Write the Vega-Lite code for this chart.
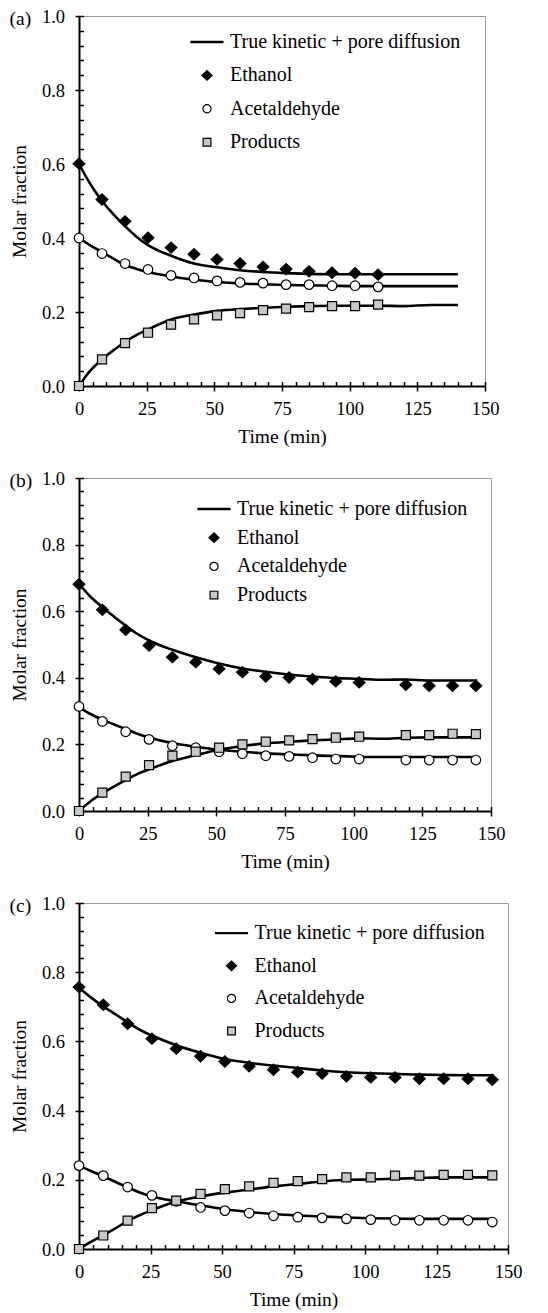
{
  "$schema": "https://vega.github.io/schema/vega-lite/v6.json",
  "background": "white",
  "padding": {"left": 8, "top": 6, "right": 5, "bottom": 5},
  "spacing": 21,
  "datasets": {
    "fit": [
      {"p":"a","t":0,"Ethanol":0.600,"Acetaldehyde":0.400,"Products":0.000},
      {"p":"a","t":4,"Ethanol":0.548,"Acetaldehyde":0.381,"Products":0.040},
      {"p":"a","t":8.5,"Ethanol":0.500,"Acetaldehyde":0.362,"Products":0.072},
      {"p":"a","t":13,"Ethanol":0.462,"Acetaldehyde":0.343,"Products":0.098},
      {"p":"a","t":17,"Ethanol":0.432,"Acetaldehyde":0.327,"Products":0.119},
      {"p":"a","t":21,"Ethanol":0.405,"Acetaldehyde":0.317,"Products":0.137},
      {"p":"a","t":25.5,"Ethanol":0.381,"Acetaldehyde":0.308,"Products":0.153},
      {"p":"a","t":34,"Ethanol":0.352,"Acetaldehyde":0.296,"Products":0.180},
      {"p":"a","t":42.5,"Ethanol":0.331,"Acetaldehyde":0.287,"Products":0.193},
      {"p":"a","t":51,"Ethanol":0.321,"Acetaldehyde":0.281,"Products":0.203},
      {"p":"a","t":59.5,"Ethanol":0.313,"Acetaldehyde":0.277,"Products":0.208},
      {"p":"a","t":68,"Ethanol":0.308,"Acetaldehyde":0.275,"Products":0.211},
      {"p":"a","t":76.5,"Ethanol":0.305,"Acetaldehyde":0.273,"Products":0.214},
      {"p":"a","t":85,"Ethanol":0.303,"Acetaldehyde":0.272,"Products":0.216},
      {"p":"a","t":93.5,"Ethanol":0.302,"Acetaldehyde":0.271,"Products":0.217},
      {"p":"a","t":102,"Ethanol":0.302,"Acetaldehyde":0.270,"Products":0.217},
      {"p":"a","t":110.5,"Ethanol":0.302,"Acetaldehyde":0.270,"Products":0.217},
      {"p":"a","t":120,"Ethanol":0.302,"Acetaldehyde":0.270,"Products":0.216},
      {"p":"a","t":130,"Ethanol":0.302,"Acetaldehyde":0.270,"Products":0.219},
      {"p":"a","t":140,"Ethanol":0.302,"Acetaldehyde":0.270,"Products":0.219},
      {"p":"b","t":0,"Ethanol":0.681,"Acetaldehyde":0.312,"Products":0.000},
      {"p":"b","t":4,"Ethanol":0.645,"Acetaldehyde":0.292,"Products":0.028},
      {"p":"b","t":8.5,"Ethanol":0.612,"Acetaldehyde":0.274,"Products":0.053},
      {"p":"b","t":13,"Ethanol":0.582,"Acetaldehyde":0.259,"Products":0.075},
      {"p":"b","t":17,"Ethanol":0.556,"Acetaldehyde":0.246,"Products":0.093},
      {"p":"b","t":21,"Ethanol":0.533,"Acetaldehyde":0.233,"Products":0.110},
      {"p":"b","t":25.5,"Ethanol":0.512,"Acetaldehyde":0.221,"Products":0.125},
      {"p":"b","t":34,"Ethanol":0.484,"Acetaldehyde":0.204,"Products":0.150},
      {"p":"b","t":42.5,"Ethanol":0.462,"Acetaldehyde":0.193,"Products":0.168},
      {"p":"b","t":51,"Ethanol":0.443,"Acetaldehyde":0.184,"Products":0.184},
      {"p":"b","t":59.5,"Ethanol":0.428,"Acetaldehyde":0.178,"Products":0.195},
      {"p":"b","t":68,"Ethanol":0.418,"Acetaldehyde":0.173,"Products":0.203},
      {"p":"b","t":76.5,"Ethanol":0.410,"Acetaldehyde":0.170,"Products":0.208},
      {"p":"b","t":85,"Ethanol":0.404,"Acetaldehyde":0.167,"Products":0.212},
      {"p":"b","t":93.5,"Ethanol":0.399,"Acetaldehyde":0.165,"Products":0.215},
      {"p":"b","t":102,"Ethanol":0.397,"Acetaldehyde":0.163,"Products":0.218},
      {"p":"b","t":110.5,"Ethanol":0.394,"Acetaldehyde":0.162,"Products":0.217},
      {"p":"b","t":119,"Ethanol":0.395,"Acetaldehyde":0.162,"Products":0.220},
      {"p":"b","t":127.5,"Ethanol":0.392,"Acetaldehyde":0.162,"Products":0.221},
      {"p":"b","t":136,"Ethanol":0.392,"Acetaldehyde":0.162,"Products":0.221},
      {"p":"b","t":145,"Ethanol":0.392,"Acetaldehyde":0.162,"Products":0.221},
      {"p":"c","t":0,"Ethanol":0.755,"Acetaldehyde":0.241,"Products":0.000},
      {"p":"c","t":4,"Ethanol":0.728,"Acetaldehyde":0.226,"Products":0.020},
      {"p":"c","t":8.5,"Ethanol":0.701,"Acetaldehyde":0.210,"Products":0.040},
      {"p":"c","t":13,"Ethanol":0.677,"Acetaldehyde":0.193,"Products":0.061},
      {"p":"c","t":17,"Ethanol":0.655,"Acetaldehyde":0.178,"Products":0.081},
      {"p":"c","t":21,"Ethanol":0.635,"Acetaldehyde":0.164,"Products":0.097},
      {"p":"c","t":25.5,"Ethanol":0.617,"Acetaldehyde":0.152,"Products":0.112},
      {"p":"c","t":34,"Ethanol":0.589,"Acetaldehyde":0.138,"Products":0.137},
      {"p":"c","t":42.5,"Ethanol":0.567,"Acetaldehyde":0.126,"Products":0.152},
      {"p":"c","t":51,"Ethanol":0.549,"Acetaldehyde":0.115,"Products":0.163},
      {"p":"c","t":59.5,"Ethanol":0.538,"Acetaldehyde":0.107,"Products":0.172},
      {"p":"c","t":68,"Ethanol":0.530,"Acetaldehyde":0.101,"Products":0.181},
      {"p":"c","t":76.5,"Ethanol":0.523,"Acetaldehyde":0.097,"Products":0.188},
      {"p":"c","t":85,"Ethanol":0.516,"Acetaldehyde":0.094,"Products":0.195},
      {"p":"c","t":93.5,"Ethanol":0.511,"Acetaldehyde":0.091,"Products":0.200},
      {"p":"c","t":102,"Ethanol":0.508,"Acetaldehyde":0.089,"Products":0.201},
      {"p":"c","t":110.5,"Ethanol":0.506,"Acetaldehyde":0.088,"Products":0.203},
      {"p":"c","t":119,"Ethanol":0.504,"Acetaldehyde":0.087,"Products":0.205},
      {"p":"c","t":127.5,"Ethanol":0.503,"Acetaldehyde":0.087,"Products":0.207},
      {"p":"c","t":136,"Ethanol":0.502,"Acetaldehyde":0.087,"Products":0.207},
      {"p":"c","t":145,"Ethanol":0.502,"Acetaldehyde":0.087,"Products":0.207}
    ],
    "pts": [
      {"p":"a","t":0,"Ethanol":0.601,"Acetaldehyde":0.400,"Products":0.000},
      {"p":"a","t":8.5,"Ethanol":0.504,"Acetaldehyde":0.358,"Products":0.072},
      {"p":"a","t":17,"Ethanol":0.445,"Acetaldehyde":0.331,"Products":0.116},
      {"p":"a","t":25.5,"Ethanol":0.401,"Acetaldehyde":0.315,"Products":0.144},
      {"p":"a","t":34,"Ethanol":0.374,"Acetaldehyde":0.299,"Products":0.166},
      {"p":"a","t":42.5,"Ethanol":0.356,"Acetaldehyde":0.292,"Products":0.180},
      {"p":"a","t":51,"Ethanol":0.342,"Acetaldehyde":0.284,"Products":0.191},
      {"p":"a","t":59.5,"Ethanol":0.331,"Acetaldehyde":0.280,"Products":0.197},
      {"p":"a","t":68,"Ethanol":0.322,"Acetaldehyde":0.278,"Products":0.205},
      {"p":"a","t":76.5,"Ethanol":0.316,"Acetaldehyde":0.274,"Products":0.209},
      {"p":"a","t":85,"Ethanol":0.310,"Acetaldehyde":0.274,"Products":0.213},
      {"p":"a","t":93.5,"Ethanol":0.306,"Acetaldehyde":0.271,"Products":0.216},
      {"p":"a","t":102,"Ethanol":0.305,"Acetaldehyde":0.271,"Products":0.216},
      {"p":"a","t":110.5,"Ethanol":0.301,"Acetaldehyde":0.268,"Products":0.220},
      {"p":"b","t":0,"Ethanol":0.681,"Acetaldehyde":0.314,"Products":0.000},
      {"p":"b","t":8.5,"Ethanol":0.604,"Acetaldehyde":0.269,"Products":0.055},
      {"p":"b","t":17,"Ethanol":0.544,"Acetaldehyde":0.238,"Products":0.103},
      {"p":"b","t":25.5,"Ethanol":0.497,"Acetaldehyde":0.215,"Products":0.138},
      {"p":"b","t":34,"Ethanol":0.462,"Acetaldehyde":0.196,"Products":0.166},
      {"p":"b","t":42.5,"Ethanol":0.447,"Acetaldehyde":0.190,"Products":0.178},
      {"p":"b","t":51,"Ethanol":0.427,"Acetaldehyde":0.178,"Products":0.190},
      {"p":"b","t":59.5,"Ethanol":0.417,"Acetaldehyde":0.172,"Products":0.200},
      {"p":"b","t":68,"Ethanol":0.404,"Acetaldehyde":0.166,"Products":0.208},
      {"p":"b","t":76.5,"Ethanol":0.401,"Acetaldehyde":0.164,"Products":0.212},
      {"p":"b","t":85,"Ethanol":0.396,"Acetaldehyde":0.160,"Products":0.216},
      {"p":"b","t":93.5,"Ethanol":0.389,"Acetaldehyde":0.156,"Products":0.220},
      {"p":"b","t":102,"Ethanol":0.386,"Acetaldehyde":0.156,"Products":0.223},
      {"p":"b","t":119,"Ethanol":0.379,"Acetaldehyde":0.153,"Products":0.228},
      {"p":"b","t":127.5,"Ethanol":0.376,"Acetaldehyde":0.153,"Products":0.228},
      {"p":"b","t":136,"Ethanol":0.376,"Acetaldehyde":0.153,"Products":0.232},
      {"p":"b","t":144.5,"Ethanol":0.376,"Acetaldehyde":0.153,"Products":0.231},
      {"p":"c","t":0,"Ethanol":0.757,"Acetaldehyde":0.241,"Products":0.000},
      {"p":"c","t":8.5,"Ethanol":0.706,"Acetaldehyde":0.212,"Products":0.039},
      {"p":"c","t":17,"Ethanol":0.651,"Acetaldehyde":0.179,"Products":0.082},
      {"p":"c","t":25.5,"Ethanol":0.608,"Acetaldehyde":0.155,"Products":0.118},
      {"p":"c","t":34,"Ethanol":0.579,"Acetaldehyde":0.138,"Products":0.140},
      {"p":"c","t":42.5,"Ethanol":0.557,"Acetaldehyde":0.120,"Products":0.159},
      {"p":"c","t":51,"Ethanol":0.542,"Acetaldehyde":0.111,"Products":0.173},
      {"p":"c","t":59.5,"Ethanol":0.528,"Acetaldehyde":0.104,"Products":0.181},
      {"p":"c","t":68,"Ethanol":0.518,"Acetaldehyde":0.096,"Products":0.191},
      {"p":"c","t":76.5,"Ethanol":0.511,"Acetaldehyde":0.092,"Products":0.196},
      {"p":"c","t":85,"Ethanol":0.507,"Acetaldehyde":0.090,"Products":0.202},
      {"p":"c","t":93.5,"Ethanol":0.499,"Acetaldehyde":0.087,"Products":0.207},
      {"p":"c","t":102,"Ethanol":0.496,"Acetaldehyde":0.085,"Products":0.207},
      {"p":"c","t":110.5,"Ethanol":0.496,"Acetaldehyde":0.083,"Products":0.212},
      {"p":"c","t":119,"Ethanol":0.492,"Acetaldehyde":0.083,"Products":0.212},
      {"p":"c","t":127.5,"Ethanol":0.492,"Acetaldehyde":0.083,"Products":0.214},
      {"p":"c","t":136,"Ethanol":0.492,"Acetaldehyde":0.083,"Products":0.214},
      {"p":"c","t":144.5,"Ethanol":0.489,"Acetaldehyde":0.078,"Products":0.213}
    ]
  },
  "vconcat": [
    {
      "width": 406, "height": 370,
      "title": {"text": "(a)", "anchor": "start", "frame": "group", "dx": -69.4, "dy": 9, "offset": -22, "baseline": "middle"},
      "layer": [
        {
          "data": {"name": "fit"},
          "transform": [{"filter": "datum.p == 'a'"}, {"fold": ["Ethanol", "Acetaldehyde", "Products"], "as": ["series", "y"]}],
          "mark": {"type": "line", "color": "black", "strokeWidth": 2.6, "interpolate": "monotone"},
          "encoding": {
            "x": {"field": "t", "type": "quantitative", "scale": {"domain": [0, 150], "nice": false},
                  "axis": {"orient": "bottom", "values": [0,5,10,15,20,25,30,35,40,45,50,55,60,65,70,75,80,85,90,95,100,105,110,115,120,125,130,135,140,145,150], "tickSize": -4.5, "labels": false, "domain": false, "title": null}},
            "y": {"field": "y", "type": "quantitative", "scale": {"domain": [0, 1], "nice": false},
                  "axis": {"orient": "left", "values": [0,0.04,0.08,0.12,0.16,0.2,0.24,0.28,0.32,0.36,0.4,0.44,0.48,0.52,0.56,0.6,0.64,0.68,0.72,0.76,0.8,0.84,0.88,0.92,0.96,1], "tickSize": -4.5, "labels": false, "domain": false, "title": null}},
            "detail": {"field": "series", "type": "nominal"}
          }
        },
        {
          "data": {"name": "pts"},
          "transform": [{"filter": "datum.p == 'a'"}, {"fold": ["Ethanol", "Acetaldehyde", "Products"], "as": ["series", "y"]}],
          "mark": {"type": "point", "filled": true, "strokeWidth": 1.2, "opacity": 1, "size": 113},
          "encoding": {
            "x": {"field": "t", "type": "quantitative", "scale": {"domain": [0, 150], "nice": false},
                  "axis": {"orient": "bottom", "values": [0,25,50,75,100,125,150], "tickSize": 5, "labelFontSize": 18.5, "labelPadding": 8.5, "title": "Time (min)", "titleFontSize": 19.5, "titleFontWeight": "normal", "titlePadding": 9.5}},
            "y": {"field": "y", "type": "quantitative", "scale": {"domain": [0, 1], "nice": false},
                  "axis": {"orient": "left", "values": [0,0.2,0.4,0.6,0.8,1], "format": ".1f", "tickSize": 4, "labelFontSize": 18.5, "labelPadding": 10.4, "title": "Molar fraction", "titleFontSize": 19.5, "titleFontWeight": "normal", "titlePadding": 12}},
            "shape": {"field": "series", "type": "nominal",
                      "scale": {"domain": ["True kinetic + pore diffusion", "Ethanol", "Acetaldehyde", "Products"], "range": ["M-3.5,-0.12H3.5V0.12H-3.5Z", "M-1.1,0L0,-1.05L1.1,0L0,1.05Z", "M0.9,0A0.9,0.9,0,1,1,-0.9,0A0.9,0.9,0,1,1,0.9,0Z", "M-0.85,-0.85H0.85V0.85H-0.85Z"]},
                      "legend": {"orient": "none", "legendX": 118, "legendY": 16, "rowPadding": 13.4}},
            "fill": {"field": "series", "type": "nominal",
                     "scale": {"domain": ["True kinetic + pore diffusion", "Ethanol", "Acetaldehyde", "Products"], "range": ["black", "black", "white", "#c8c8c8"]},
                     "legend": {"orient": "none", "legendX": 118, "legendY": 16, "rowPadding": 13.4}},
            "stroke": {"field": "series", "type": "nominal",
                     "scale": {"domain": ["True kinetic + pore diffusion", "Ethanol", "Acetaldehyde", "Products"], "range": ["black", "black", "black", "black"]},
                     "legend": {"orient": "none", "legendX": 118, "legendY": 16, "rowPadding": 13.4}}
          }
        }
      ],
      "resolve": {"axis": {"x": "independent", "y": "independent"}}
    },
    {
      "width": 412, "height": 333,
      "title": {"text": "(b)", "anchor": "start", "frame": "group", "dx": -69.4, "dy": 9, "offset": -22, "baseline": "middle"},
      "layer": [
        {
          "data": {"name": "fit"},
          "transform": [{"filter": "datum.p == 'b'"}, {"fold": ["Ethanol", "Acetaldehyde", "Products"], "as": ["series", "y"]}],
          "mark": {"type": "line", "color": "black", "strokeWidth": 2.6, "interpolate": "monotone"},
          "encoding": {
            "x": {"field": "t", "type": "quantitative", "scale": {"domain": [0, 150], "nice": false},
                  "axis": {"orient": "bottom", "values": [0,5,10,15,20,25,30,35,40,45,50,55,60,65,70,75,80,85,90,95,100,105,110,115,120,125,130,135,140,145,150], "tickSize": -4.5, "labels": false, "domain": false, "title": null}},
            "y": {"field": "y", "type": "quantitative", "scale": {"domain": [0, 1], "nice": false},
                  "axis": {"orient": "left", "values": [0,0.04,0.08,0.12,0.16,0.2,0.24,0.28,0.32,0.36,0.4,0.44,0.48,0.52,0.56,0.6,0.64,0.68,0.72,0.76,0.8,0.84,0.88,0.92,0.96,1], "tickSize": -4.5, "labels": false, "domain": false, "title": null}},
            "detail": {"field": "series", "type": "nominal"}
          }
        },
        {
          "data": {"name": "pts"},
          "transform": [{"filter": "datum.p == 'b'"}, {"fold": ["Ethanol", "Acetaldehyde", "Products"], "as": ["series", "y"]}],
          "mark": {"type": "point", "filled": true, "strokeWidth": 1.2, "opacity": 1, "size": 113},
          "encoding": {
            "x": {"field": "t", "type": "quantitative", "scale": {"domain": [0, 150], "nice": false},
                  "axis": {"orient": "bottom", "values": [0,25,50,75,100,125,150], "tickSize": 5, "labelFontSize": 18.5, "labelPadding": 8.5, "title": "Time (min)", "titleFontSize": 19.5, "titleFontWeight": "normal", "titlePadding": 9.5}},
            "y": {"field": "y", "type": "quantitative", "scale": {"domain": [0, 1], "nice": false},
                  "axis": {"orient": "left", "values": [0,0.2,0.4,0.6,0.8,1], "format": ".1f", "tickSize": 4, "labelFontSize": 18.5, "labelPadding": 10.4, "title": "Molar fraction", "titleFontSize": 19.5, "titleFontWeight": "normal", "titlePadding": 12}},
            "shape": {"field": "series", "type": "nominal",
                      "scale": {"domain": ["True kinetic + pore diffusion", "Ethanol", "Acetaldehyde", "Products"], "range": ["M-3.5,-0.12H3.5V0.12H-3.5Z", "M-1.1,0L0,-1.05L1.1,0L0,1.05Z", "M0.9,0A0.9,0.9,0,1,1,-0.9,0A0.9,0.9,0,1,1,0.9,0Z", "M-0.85,-0.85H0.85V0.85H-0.85Z"]},
                      "legend": {"orient": "none", "legendX": 125, "legendY": 21, "rowPadding": 8.7}},
            "fill": {"field": "series", "type": "nominal",
                     "scale": {"domain": ["True kinetic + pore diffusion", "Ethanol", "Acetaldehyde", "Products"], "range": ["black", "black", "white", "#c8c8c8"]},
                     "legend": {"orient": "none", "legendX": 125, "legendY": 21, "rowPadding": 8.7}},
            "stroke": {"field": "series", "type": "nominal",
                     "scale": {"domain": ["True kinetic + pore diffusion", "Ethanol", "Acetaldehyde", "Products"], "range": ["black", "black", "black", "black"]},
                     "legend": {"orient": "none", "legendX": 125, "legendY": 21, "rowPadding": 8.7}}
          }
        }
      ],
      "resolve": {"axis": {"x": "independent", "y": "independent"}}
    },
    {
      "width": 429, "height": 346,
      "title": {"text": "(c)", "anchor": "start", "frame": "group", "dx": -69.4, "dy": 9, "offset": -22, "baseline": "middle"},
      "layer": [
        {
          "data": {"name": "fit"},
          "transform": [{"filter": "datum.p == 'c'"}, {"fold": ["Ethanol", "Acetaldehyde", "Products"], "as": ["series", "y"]}],
          "mark": {"type": "line", "color": "black", "strokeWidth": 2.6, "interpolate": "monotone"},
          "encoding": {
            "x": {"field": "t", "type": "quantitative", "scale": {"domain": [0, 150], "nice": false},
                  "axis": {"orient": "bottom", "values": [0,5,10,15,20,25,30,35,40,45,50,55,60,65,70,75,80,85,90,95,100,105,110,115,120,125,130,135,140,145,150], "tickSize": -4.5, "labels": false, "domain": false, "title": null}},
            "y": {"field": "y", "type": "quantitative", "scale": {"domain": [0, 1], "nice": false},
                  "axis": {"orient": "left", "values": [0,0.04,0.08,0.12,0.16,0.2,0.24,0.28,0.32,0.36,0.4,0.44,0.48,0.52,0.56,0.6,0.64,0.68,0.72,0.76,0.8,0.84,0.88,0.92,0.96,1], "tickSize": -4.5, "labels": false, "domain": false, "title": null}},
            "detail": {"field": "series", "type": "nominal"}
          }
        },
        {
          "data": {"name": "pts"},
          "transform": [{"filter": "datum.p == 'c'"}, {"fold": ["Ethanol", "Acetaldehyde", "Products"], "as": ["series", "y"]}],
          "mark": {"type": "point", "filled": true, "strokeWidth": 1.2, "opacity": 1, "size": 113},
          "encoding": {
            "x": {"field": "t", "type": "quantitative", "scale": {"domain": [0, 150], "nice": false},
                  "axis": {"orient": "bottom", "values": [0,25,50,75,100,125,150], "tickSize": 5, "labelFontSize": 18.5, "labelPadding": 8.5, "title": "Time (min)", "titleFontSize": 19.5, "titleFontWeight": "normal", "titlePadding": 9.5}},
            "y": {"field": "y", "type": "quantitative", "scale": {"domain": [0, 1], "nice": false},
                  "axis": {"orient": "left", "values": [0,0.2,0.4,0.6,0.8,1], "format": ".1f", "tickSize": 4, "labelFontSize": 18.5, "labelPadding": 10.4, "title": "Molar fraction", "titleFontSize": 19.5, "titleFontWeight": "normal", "titlePadding": 12}},
            "shape": {"field": "series", "type": "nominal",
                      "scale": {"domain": ["True kinetic + pore diffusion", "Ethanol", "Acetaldehyde", "Products"], "range": ["M-3.5,-0.12H3.5V0.12H-3.5Z", "M-1.1,0L0,-1.05L1.1,0L0,1.05Z", "M0.9,0A0.9,0.9,0,1,1,-0.9,0A0.9,0.9,0,1,1,0.9,0Z", "M-0.85,-0.85H0.85V0.85H-0.85Z"]},
                      "legend": {"orient": "none", "legendX": 142.5, "legendY": 20.2, "rowPadding": 12.6}},
            "fill": {"field": "series", "type": "nominal",
                     "scale": {"domain": ["True kinetic + pore diffusion", "Ethanol", "Acetaldehyde", "Products"], "range": ["black", "black", "white", "#c8c8c8"]},
                     "legend": {"orient": "none", "legendX": 142.5, "legendY": 20.2, "rowPadding": 12.6}},
            "stroke": {"field": "series", "type": "nominal",
                     "scale": {"domain": ["True kinetic + pore diffusion", "Ethanol", "Acetaldehyde", "Products"], "range": ["black", "black", "black", "black"]},
                     "legend": {"orient": "none", "legendX": 142.5, "legendY": 20.2, "rowPadding": 12.6}}
          }
        }
      ],
      "resolve": {"axis": {"x": "independent", "y": "independent"}}
    }
  ],
  "resolve": {"scale": {"shape": "independent", "fill": "independent", "stroke": "independent"}, "legend": {"shape": "independent", "fill": "independent", "stroke": "independent"}},
  "config": {
    "font": "Liberation Serif, DejaVu Serif, serif",
    "view": {"stroke": "#9a9a9a", "strokeWidth": 1},
    "axis": {"grid": false, "domainColor": "black", "tickColor": "black", "labelColor": "black", "titleColor": "black", "labelFont": "Liberation Serif, DejaVu Serif, serif", "titleFont": "Liberation Serif, DejaVu Serif, serif", "titleFontWeight": "normal", "labelFlush": false, "labelOverlap": false, "tickWidth": 1.5, "domainWidth": 2},
    "legend": {"title": null, "padding": 0, "symbolSize": 83, "symbolStrokeWidth": 1.2, "symbolOpacity": 1, "labelFont": "Liberation Serif, DejaVu Serif, serif", "labelFontSize": 20, "labelColor": "black", "labelOffset": 13, "labelLimit": 400},
    "title": {"font": "Liberation Serif, DejaVu Serif, serif", "fontSize": 19.5, "fontWeight": "normal", "color": "black"}
  }
}
